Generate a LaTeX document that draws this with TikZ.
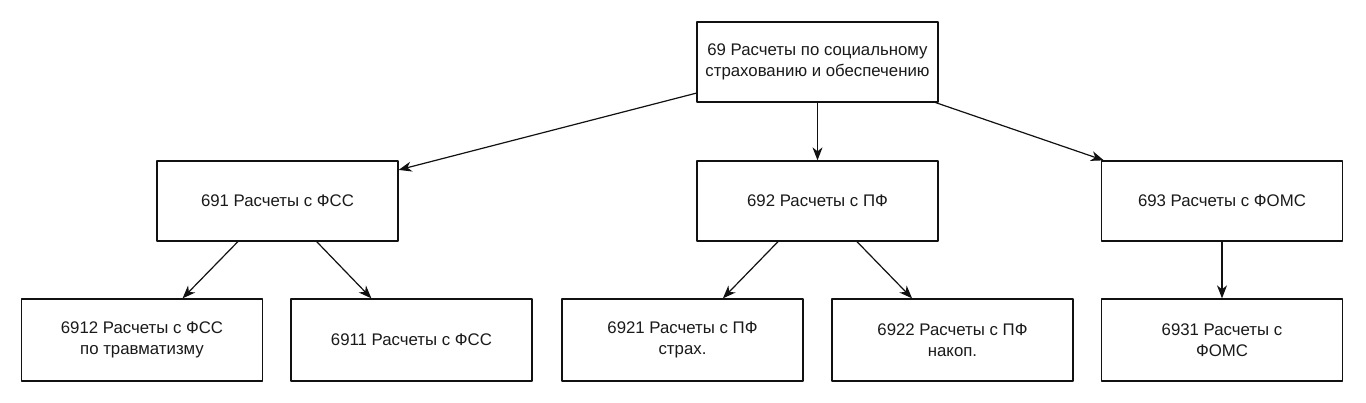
\documentclass[tikz,border=0pt]{standalone}
\usepackage{fontspec}
\setmainfont{Liberation Sans}
\usetikzlibrary{arrows.meta,positioning}
\definecolor{acctInk}{HTML}{1A1A1A}
\definecolor{acctLine}{HTML}{111111}

\begin{document}
\begin{tikzpicture}[x=1pt,y=-1pt,>={Stealth[length=13pt,width=10pt,inset=4pt]},line cap=round,line join=round]
\path[fill=white] (0,0) rectangle (1366,402);
\tikzset{acct/.style={draw=acctLine,line width=1.3pt,minimum width=241pt,minimum height=80pt,inner sep=0pt,align=center,text=acctInk,font=\fontsize{16.8}{21}\selectfont},sub/.style={acct,minimum height=82pt},link/.style={draw=acctLine,line width=1.2pt,->}}
\node[acct] (top) at (817.5,62) {69 Расчеты по социальному\\страхованию и обеспечению};
\node[acct] (fss) at (277.5,201) {691 Расчеты с ФСС}; \node[acct] (pf) at (817.5,201) {692 Расчеты с ПФ}; \node[acct] (foms) at (1222,201) {693 Расчеты с ФОМС};
\node[sub] (fssTr) at (142,340) {6912 Расчеты с ФСС\\по травматизму}; \node[sub] (fssMain) at (411.5,340) {6911 Расчеты с ФСС};
\node[sub] (pfStr) at (682.5,340) {6921 Расчеты с ПФ\\страх.}; \node[sub] (pfNak) at (952.5,340) {6922 Расчеты с ПФ\\накоп.};
\node[sub] (fomsSub) at (1222,340) {6931 Расчеты с\\ФОМС};
% top level
\draw[link] (top) -- (fss); \draw[link] (top) -- (pf); \draw[link] (top) -- (foms);
% second level
\draw[link] (fss) -- (fssTr); \draw[link] (fss) -- (fssMain);
\draw[link] (pf) -- (pfStr); \draw[link] (pf) -- (pfNak); \draw[link] (foms) -- (fomsSub);
\end{tikzpicture}
\end{document}
